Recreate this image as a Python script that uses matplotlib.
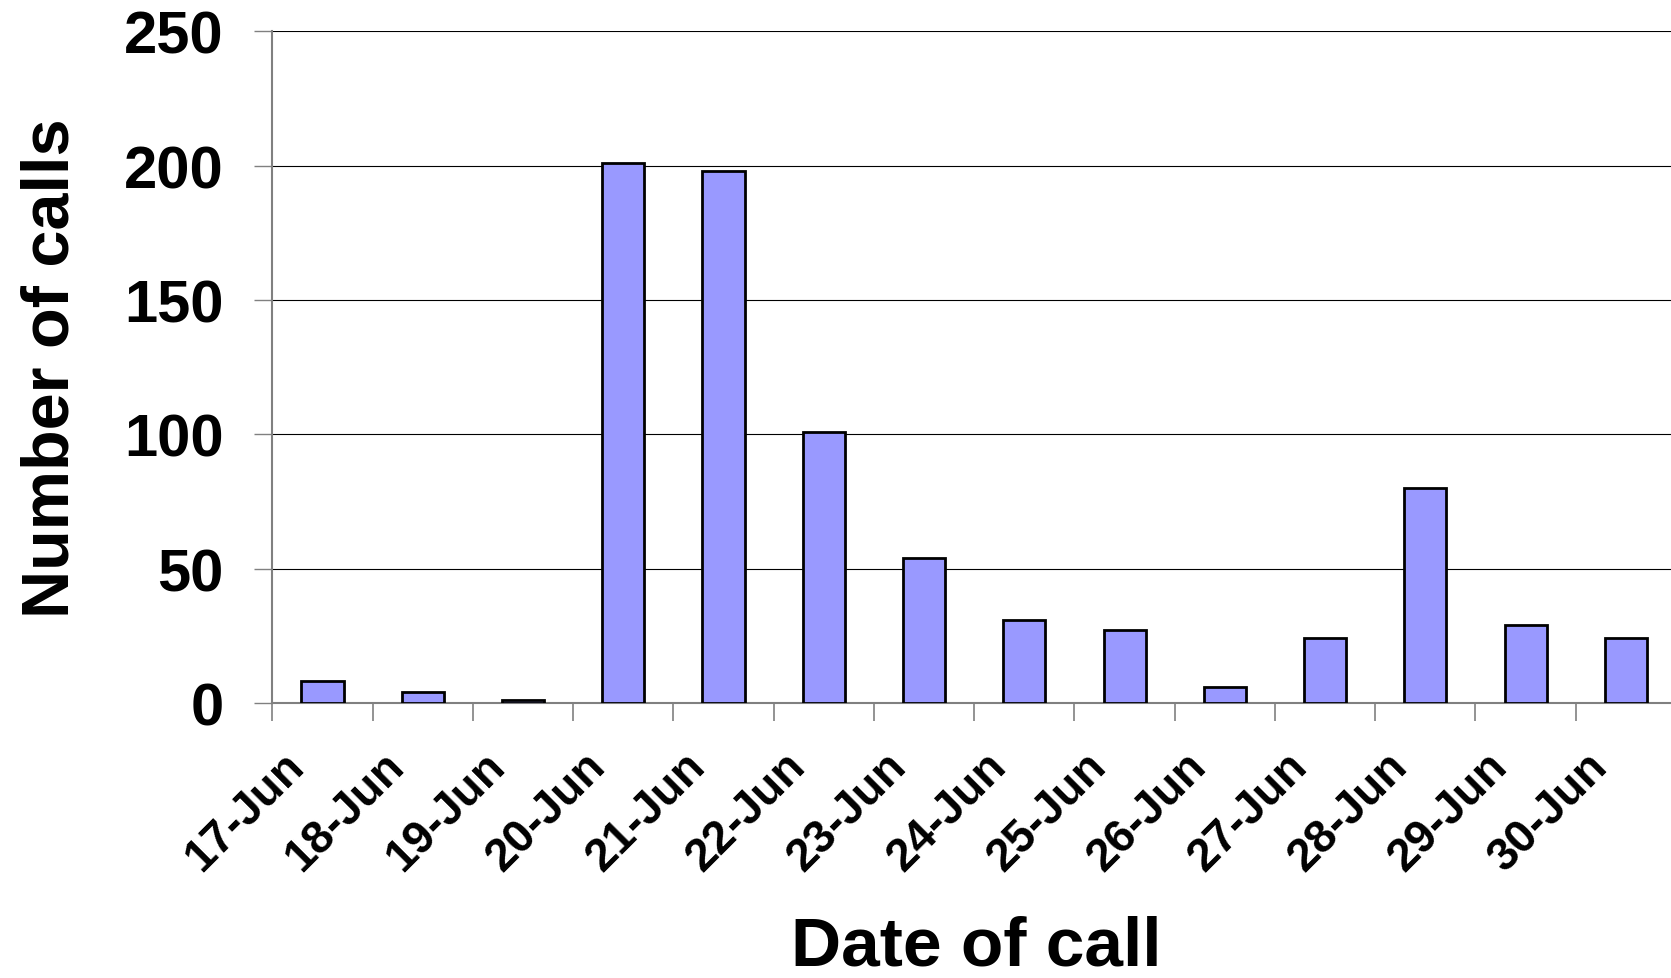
import matplotlib.pyplot as plt
import matplotlib.transforms as mtransforms
import numpy as np

plt.rcParams["font.family"] = ["Liberation Sans", "DejaVu Sans"]
plt.rcParams["font.weight"] = "bold"

dates = ["17-Jun", "18-Jun", "19-Jun", "20-Jun", "21-Jun", "22-Jun", "23-Jun",
         "24-Jun", "25-Jun", "26-Jun", "27-Jun", "28-Jun", "29-Jun", "30-Jun"]
calls = [8, 4, 1, 201, 198, 101, 54, 31, 27, 6, 24, 80, 29, 24]
y_ticks = [0, 50, 100, 150, 200, 250]

fig = plt.figure(figsize=(16.71, 9.79), dpi=100)
ax = fig.add_axes([0.163, 0.281, 0.840, 0.686])

x = np.arange(len(dates))
ax.bar(x, calls, width=0.42, color="#9999FF", edgecolor="black", linewidth=2, zorder=3)

ax.set_xlim(-0.5, len(dates) - 0.5)
ax.set_ylim(0, 250)
ax.set_yticks(y_ticks)
ax.tick_params(axis="y", labelsize=43, length=13, color="#808080", width=1, pad=22)
for lbl in ax.get_yticklabels():
    lbl.set_fontweight("bold")

# category boundaries as tick marks, labels at centers
ax.set_xticks(np.arange(len(dates) + 1) - 0.5, minor=True)
ax.set_xticks(x)
ax.tick_params(axis="x", which="minor", length=13, color="#808080", width=1.2, direction="out")
ax.tick_params(axis="x", which="major", length=0, pad=40)
ax.set_xticklabels(dates, rotation=45, ha="right", va="center",
                   rotation_mode="anchor", fontsize=33, fontweight="bold")
offset = mtransforms.ScaledTranslation(-0.25, 0, fig.dpi_scale_trans)
for lbl in ax.get_xticklabels():
    lbl.set_transform(lbl.get_transform() + offset)

ax.yaxis.grid(True, color="black", linewidth=0.8, zorder=0)
ax.set_axisbelow(True)
for side in ["top", "right"]:
    ax.spines[side].set_visible(False)
ax.spines["left"].set_color("#808080")
ax.spines["bottom"].set_color("#808080")
ax.spines["left"].set_linewidth(1.5)
ax.spines["bottom"].set_linewidth(1.5)

ax.set_ylabel("Number of calls", fontsize=48, fontweight="bold", labelpad=30)
fig.text(0.584, 0.014, "Date of call", fontsize=50, fontweight="bold",
         ha="center", va="baseline")

fig.savefig("out.png", dpi=100)
